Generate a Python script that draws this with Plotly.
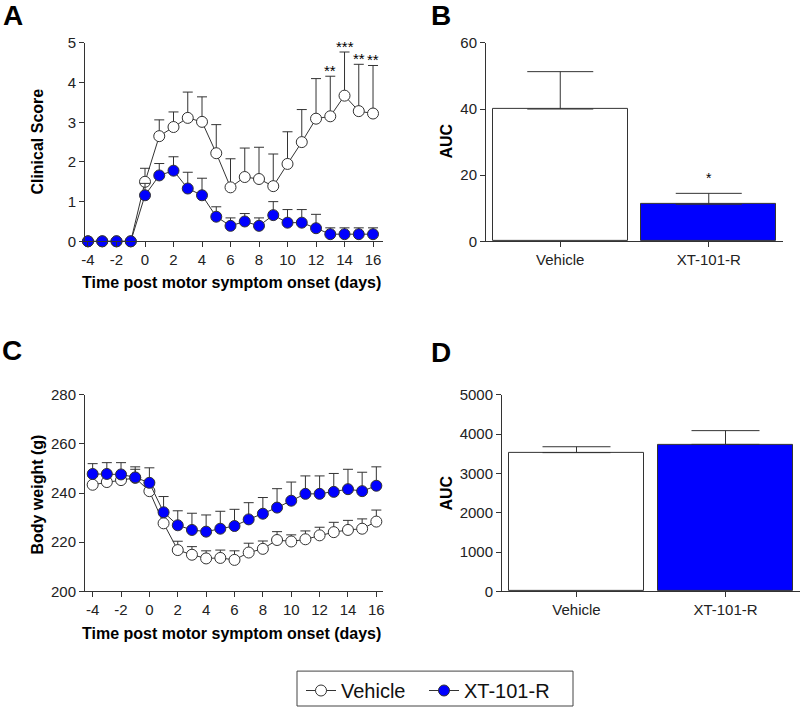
import plotly.graph_objects as go

# ---------------- data ----------------
days = list(range(-4, 17))
day_ticks = [-4, -2, 0, 2, 4, 6, 8, 10, 12, 14, 16]
day_tick_labels = ["-4", "-2", "0", "2", "4", "6", "8", "10", "12", "14", "16"]

score_vehicle = [0, 0, 0, 0, 1.50, 2.65, 2.88, 3.11, 3.01, 2.22, 1.36, 1.62, 1.57, 1.39,
                 1.95, 2.50, 3.09, 3.15, 3.67, 3.28, 3.22]
score_vehicle_err = [0, 0, 0, 0, 0.34, 0.41, 0.38, 0.65, 0.63, 0.72, 0.72, 0.73, 0.80, 0.81,
                     0.81, 0.82, 1.01, 1.01, 1.10, 1.18, 1.21]
score_xt = [0, 0, 0, 0, 1.16, 1.66, 1.78, 1.33, 1.16, 0.62, 0.39, 0.50, 0.39, 0.66,
            0.47, 0.47, 0.33, 0.18, 0.18, 0.18, 0.18]
score_xt_err = [0, 0, 0, 0, 0.30, 0.30, 0.35, 0.41, 0.43, 0.25, 0.20, 0.20, 0.20, 0.34,
                0.33, 0.33, 0.35, 0.16, 0.16, 0.16, 0.16]

star_days = [13, 14, 15, 16]
star_labels = ["**", "***", "**", "**"]

weight_vehicle = [243.4, 244.5, 245.3, 246.2, 240.8, 227.7, 216.8, 214.9, 213.4, 213.6, 212.8,
                  215.8, 217.3, 220.9, 220.3, 221.2, 222.8, 224.1, 225.0, 225.5, 228.4]
weight_vehicle_err = [3.5, 3.5, 3.5, 3.5, 3.5, 3.5, 3.6, 3.3, 3.1, 3.2, 3.7,
                      3.8, 3.2, 3.4, 2.7, 3.4, 3.3, 4.0, 3.9, 4.0, 4.7]
weight_xt = [247.8, 247.8, 247.6, 246.4, 244.2, 232.2, 226.9, 225.0, 224.3, 225.5, 226.6,
             229.3, 231.6, 234.1, 236.9, 239.7, 239.7, 240.5, 241.6, 240.8, 243.0]
weight_xt_err = [4.2, 4.6, 4.8, 4.3, 6.1, 6.4, 5.9, 6.8, 6.8, 7.1, 6.8,
                 6.8, 6.6, 7.7, 7.6, 7.3, 7.3, 7.5, 8.1, 7.7, 7.7]

groups = ["Vehicle", "XT-101-R"]
auc_score = [40.0, 11.2]
auc_score_err = [11.3, 3.3]
auc_weight = [3530, 3740]
auc_weight_err = [150, 350]

# ---------------- styling ----------------
W, H = 800, 710
FONT = "Liberation Sans, Arial, sans-serif"
INK = "#333333"
BLUE = "#0000ff"


def fx(px):
    return px / W


def fy(py):
    return 1 - py / H


fig = go.Figure()


def line_traces(xa, ya, veh, veh_err, xt, xt_err, show):
    fig.add_trace(go.Scatter(
        x=days, y=veh, name="Vehicle", mode="lines+markers", legend="legend",
        xaxis=xa, yaxis=ya, showlegend=show, cliponaxis=False,
        line=dict(color=INK, width=1),
        marker=dict(symbol="circle", size=11, color="white", line=dict(color=INK, width=1)),
        error_y=dict(type="data", array=veh_err, arrayminus=[0] * len(veh_err),
                     symmetric=False, color=INK, thickness=1, width=5),
    ))
    fig.add_trace(go.Scatter(
        x=days, y=xt, name="XT-101-R", mode="lines+markers", legend="legend2",
        xaxis=xa, yaxis=ya, showlegend=show, cliponaxis=False,
        line=dict(color=INK, width=1),
        marker=dict(symbol="circle", size=11, color=BLUE, line=dict(color=INK, width=1)),
        error_y=dict(type="data", array=xt_err, arrayminus=[0] * len(xt_err),
                     symmetric=False, color=INK, thickness=1, width=5),
    ))


def bar_trace(xa, ya, vals, errs, capw):
    fig.add_trace(go.Bar(
        x=groups, y=vals, xaxis=xa, yaxis=ya, showlegend=False, width=0.91,
        marker=dict(color=["white", BLUE], line=dict(color=INK, width=1)),
        error_y=dict(type="data", array=errs, arrayminus=[0] * len(errs),
                     symmetric=False, color=INK, thickness=1, width=capw),
    ))


line_traces("x", "y", score_vehicle, score_vehicle_err, score_xt, score_xt_err, True)
bar_trace("x2", "y2", auc_score, auc_score_err, 33)
line_traces("x3", "y3", weight_vehicle, weight_vehicle_err, weight_xt, weight_xt_err, False)
bar_trace("x4", "y4", auc_weight, auc_weight_err, 34)

axis_common = dict(showline=True, linecolor=INK, linewidth=1, ticks="outside",
                   ticklen=5, tickwidth=1, tickcolor=INK, showgrid=False, zeroline=False,
                   automargin=False,
                   tickfont=dict(family=FONT, size=15, color="#222222"))

legend_common = dict(orientation="h", xanchor="left", y=fy(673), yanchor="top",
                     borderwidth=0, bgcolor="rgba(0,0,0,0)", itemwidth=30,
                     font=dict(family=FONT, size=20, color="#111111"))

fig.update_layout(
    template="none",
    width=W, height=H, margin=dict(l=0, r=0, t=0, b=0, pad=0),
    paper_bgcolor="white", plot_bgcolor="white",
    font=dict(family=FONT, color="#111111"),
    bargap=0,
    xaxis=dict(domain=[fx(85), fx(383)], range=[-4.21, 16.70], anchor="y",
               tickmode="array", tickvals=day_ticks, ticktext=day_tick_labels, **axis_common),
    yaxis=dict(domain=[fy(242), fy(43)], range=[0, 5], anchor="x",
               tickmode="linear", tick0=0, dtick=1, **axis_common),
    xaxis2=dict(domain=[fx(486), fx(783)], range=[-0.5, 1.5], anchor="y2",
                type="category", **axis_common),
    yaxis2=dict(domain=[fy(242), fy(43)], range=[0, 60], anchor="x2",
                tickmode="linear", tick0=0, dtick=20, **axis_common),
    xaxis3=dict(domain=[fx(85), fx(383)], range=[-4.54, 16.47], anchor="y3",
                tickmode="array", tickvals=day_ticks, ticktext=day_tick_labels, **axis_common),
    yaxis3=dict(domain=[fy(593), fy(396)], range=[200, 280], anchor="x3",
                tickmode="linear", tick0=200, dtick=20, **axis_common),
    xaxis4=dict(domain=[fx(502), fx(800)], range=[-0.5, 1.5], anchor="y4",
                type="category", **axis_common),
    yaxis4=dict(domain=[fy(593), fy(396)], range=[0, 5000], anchor="x4",
                tickmode="linear", tick0=0, dtick=1000, **axis_common),
    legend=dict(x=fx(301), **legend_common),
    legend2=dict(x=fx(424), **legend_common),
    shapes=[dict(type="rect", xref="paper", yref="paper",
                 x0=fx(297), x1=fx(573), y0=fy(708), y1=fy(673),
                 line=dict(color="#444444", width=1), fillcolor="rgba(0,0,0,0)")],
)

ann = []
# panel letters
for letter, px, py in [("A", 13, 16), ("B", 441, 16), ("C", 12, 351), ("D", 441, 353)]:
    ann.append(dict(text="<b>%s</b>" % letter, x=fx(px), y=fy(py), xref="paper", yref="paper",
                    xanchor="center", yanchor="middle", showarrow=False,
                    font=dict(family=FONT, size=28, color="#000000")))
# axis titles
title_font = dict(family=FONT, size=16, color="#000000")
titles = [
    dict(text="<b>Clinical Score</b>", x=fx(38), y=fy(142), textangle=-90),
    dict(text="<b>Time post motor symptom onset (days)</b>", x=fx(232), y=fy(283)),
    dict(text="<b>AUC</b>", x=fx(447), y=fy(142), textangle=-90),
    dict(text="<b>Body weight (g)</b>", x=fx(38), y=fy(496), textangle=-90),
    dict(text="<b>Time post motor symptom onset (days)</b>", x=fx(232), y=fy(635)),
    dict(text="<b>AUC</b>", x=fx(447), y=fy(495), textangle=-90),
]
for a in titles:
    a.update(xref="paper", yref="paper", xanchor="center", yanchor="middle",
             showarrow=False, font=title_font)
ann += titles

# significance stars
for d, lab in zip(star_days, star_labels):
    i = days.index(d)
    ann.append(dict(text=lab, x=d, y=score_vehicle[i] + score_vehicle_err[i], xref="x", yref="y",
                    xanchor="center", yanchor="bottom", yshift=-5, showarrow=False,
                    font=dict(family=FONT, size=15, color="#000000")))
ann.append(dict(text="*", x=groups[1], y=auc_score[1] + auc_score_err[1], xref="x2", yref="y2",
                xanchor="center", yanchor="bottom", yshift=5, showarrow=False,
                font=dict(family=FONT, size=14, color="#000000")))

fig.update_layout(annotations=ann)
fig.write_html("out.html", config={"displayModeBar": False},
               post_script="document.body.style.margin='0px';")
